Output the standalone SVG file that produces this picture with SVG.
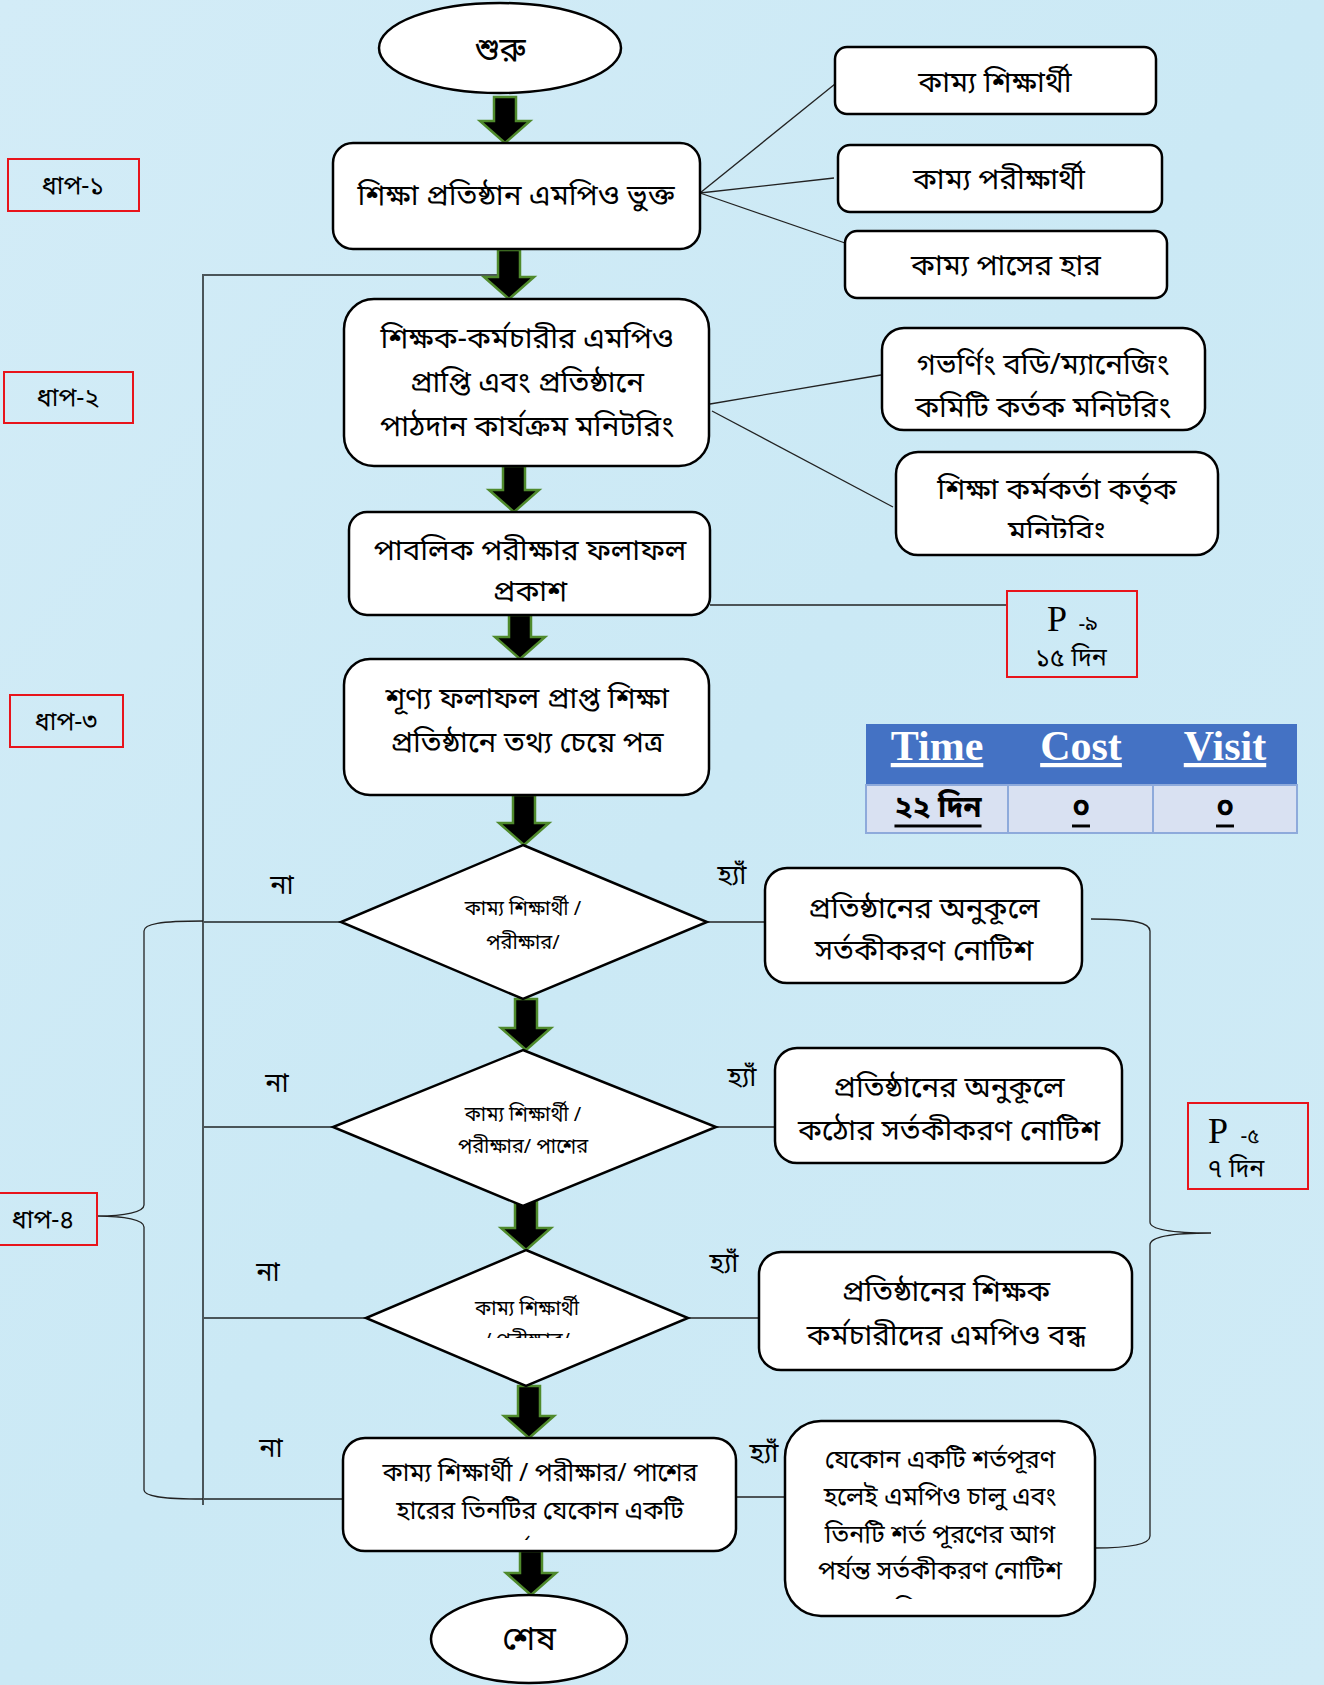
<svg xmlns="http://www.w3.org/2000/svg" width="1324" height="1685" viewBox="0 0 1324 1685">
<style>
.bn{font-family:"Noto Sans Bengali","Noto Serif Bengali","Lohit Bengali","FreeSerif","Noto Sans",sans-serif;fill:#000;text-anchor:middle;dominant-baseline:central;transform:translateY(4px)}
.t28{font-size:29.5px}
.t26{font-size:27px}
.t24{font-size:25px}
.t20{font-size:20px}
.node{fill:#fff;stroke:#000;stroke-width:2.5}
.tag{fill:none;stroke:#e8141b;stroke-width:2}
.con{fill:none;stroke:#222;stroke-width:1.3}
.vline{fill:none;stroke:#4a5559;stroke-width:2}
.blk{fill:#000;stroke:#4f8a2c;stroke-width:2.5;stroke-linejoin:miter}
.hdr{font-family:"Liberation Serif",serif;font-size:42px;font-weight:bold;fill:#fff;text-anchor:middle;text-decoration:underline}
.pp{font-family:"Liberation Serif",serif;font-size:36px;fill:#000;text-anchor:middle}
.pn{font-family:"Noto Sans Bengali","Noto Serif Bengali","Lohit Bengali","FreeSerif",sans-serif;fill:#000;text-anchor:middle}
</style>
<defs>
<linearGradient id="bg" x1="0" y1="0" x2="1" y2="1">
<stop offset="0" stop-color="#d3ecf7"/>
<stop offset="0.5" stop-color="#cbe9f5"/>
<stop offset="1" stop-color="#d0ebf6"/>
</linearGradient>
<clipPath id="c4"><rect x="346" y="661" width="361" height="113"/></clipPath>
<clipPath id="cd3"><rect x="360" y="1250" width="340" height="88"/></clipPath>
<clipPath id="cl"><rect x="345" y="1440" width="389" height="100"/></clipPath>
<clipPath id="cy4"><rect x="787" y="1423" width="306" height="176"/></clipPath>
<clipPath id="cs"><rect x="898" y="454" width="318" height="84"/></clipPath>
</defs>
<rect x="0" y="0" width="1324" height="1685" fill="url(#bg)"/>

<g id="connectors">
<line class="con" x1="700" y1="193" x2="835" y2="84"/>
<line class="con" x1="700" y1="193" x2="834" y2="178"/>
<line class="con" x1="700" y1="193" x2="845" y2="243"/>
<line class="con" x1="710" y1="404" x2="881" y2="375"/>
<line class="con" x1="712" y1="411" x2="893" y2="507"/>
<line class="con" x1="710" y1="605" x2="1007" y2="605"/>
<polyline class="vline" points="505,275 203,275 203,1505"/>
<line class="vline" x1="341" y1="922" x2="203" y2="922"/>
<line class="vline" x1="333" y1="1127" x2="203" y2="1127"/>
<line class="vline" x1="366" y1="1318" x2="203" y2="1318"/>
<line class="vline" x1="343" y1="1499" x2="203" y2="1499"/>
<line class="con" x1="707" y1="922" x2="765" y2="922"/>
<line class="con" x1="716" y1="1127" x2="775" y2="1127"/>
<line class="con" x1="688" y1="1318" x2="759" y2="1318"/>
<line class="con" x1="736" y1="1497" x2="785" y2="1497"/>
<path class="con" d="M203,921 C160,921 144,924 144,931 V1205 C144,1212 125,1216 97,1216 C125,1216 144,1220 144,1227 V1490 C144,1496 160,1499 203,1499"/>
<path class="con" d="M1091,919 C1135,919 1150,923 1150,931 V1222 C1150,1229 1170,1233 1211,1233 C1170,1233 1150,1237 1150,1245 V1536 C1150,1543 1135,1548 1094,1548"/>
<path class="blk" d="M494,97 H516 V121 H530 L505,143 L480,121 H494 Z"/>
<path class="blk" d="M498,250 H520 V277 H534 L509,299 L484,277 H498 Z"/>
<path class="blk" d="M503,466 H525 V490 H539 L514,512 L489,490 H503 Z"/>
<path class="blk" d="M509,615 H531 V637 H545 L520,659 L495,637 H509 Z"/>
<path class="blk" d="M513,795 H535 V823 H549 L524,845 L499,823 H513 Z"/>
<path class="blk" d="M515,999 H537 V1028 H551 L526,1050 L501,1028 H515 Z"/>
<path class="blk" d="M515,1200 H537 V1228 H551 L526,1250 L501,1228 H515 Z"/>
<path class="blk" d="M518,1386 H540 V1416 H554 L529,1438 L504,1416 H518 Z"/>
<path class="blk" d="M520,1551 H542 V1573 H556 L531,1595 L506,1573 H520 Z"/>
<text class="bn t26" x="282" y="883">না</text>
<text class="bn t26" x="277" y="1081">না</text>
<text class="bn t26" x="268" y="1270">না</text>
<text class="bn t26" x="271" y="1446">না</text>
<text class="bn t26" x="732" y="873">হ্যাঁ</text>
<text class="bn t26" x="742" y="1075">হ্যাঁ</text>
<text class="bn t26" x="724" y="1261">হ্যাঁ</text>
<text class="bn t26" x="764" y="1451">হ্যাঁ</text>
</g>

<g id="start">
<ellipse class="node" cx="500" cy="48" rx="121" ry="45"/>
<text class="bn" style="font-size:33px" x="500" y="48">শুরু</text>
</g>
<g id="mpo-listed">
<rect class="node" x="333" y="143" width="367" height="106" rx="20"/>
<text class="bn t28" x="516" y="193">শিক্ষা প্রতিষ্ঠান এমপিও ভুক্ত</text>
</g>
<g id="desired-students">
<rect class="node" x="835" y="47" width="321" height="67" rx="12"/>
<text class="bn t28" x="995" y="80">কাম্য শিক্ষার্থী</text>
</g>
<g id="desired-examinees">
<rect class="node" x="838" y="145" width="324" height="67" rx="12"/>
<text class="bn t28" x="999" y="177">কাম্য পরীক্ষার্থী</text>
</g>
<g id="desired-pass-rate">
<rect class="node" x="845" y="231" width="322" height="67" rx="12"/>
<text class="bn t28" x="1006" y="263">কাম্য পাসের হার</text>
</g>
<g id="monitoring">
<rect class="node" x="344" y="299" width="365" height="167" rx="30"/>
<text class="bn t28" x="527" y="336">শিক্ষক-কর্মচারীর এমপিও</text>
<text class="bn t28" x="527" y="380">প্রাপ্তি এবং প্রতিষ্ঠানে</text>
<text class="bn t28" x="527" y="424">পাঠদান কার্যক্রম মনিটরিং</text>
</g>
<g id="governing-body">
<rect class="node" x="882" y="328" width="323" height="102" rx="22"/>
<text class="bn t28" x="1043" y="362">গভর্ণিং বডি/ম্যানেজিং</text>
<text class="bn t28" x="1043" y="405">কমিটি কর্তক মনিটরিং</text>
</g>
<g id="edu-officer">
<rect class="node" x="896" y="452" width="322" height="103" rx="22"/>
<g clip-path="url(#cs)">
<text class="bn t28" x="1057" y="487">শিক্ষা কর্মকর্তা কর্তৃক</text>
<text class="bn t28" x="1057" y="529">মনিটরিং</text>
</g>
</g>
<g id="result">
<rect class="node" x="349" y="512" width="361" height="103" rx="18"/>
<text class="bn t28" x="530" y="548">পাবলিক পরীক্ষার ফলাফল</text>
<text class="bn t28" x="530" y="589">প্রকাশ</text>
</g>
<g id="p9">
<rect class="tag" x="1007" y="591" width="130" height="86"/>
<text class="pp" x="1057" y="631">P</text>
<text class="pn" style="font-size:21px" x="1088" y="631">-৯</text>
<text class="pn" style="font-size:25px" x="1071" y="666">১৫ দিন</text>
</g>
<g id="letter">
<rect class="node" x="344" y="659" width="365" height="136" rx="26"/>
<g clip-path="url(#c4)">
<text class="bn t28" x="527" y="696">শূণ্য ফলাফল প্রাপ্ত শিক্ষা</text>
<text class="bn t28" x="527" y="740">প্রতিষ্ঠানে তথ্য চেয়ে পত্র</text>
<text class="bn t28" x="527" y="784">প্রেরণ</text>
</g>
</g>
<g id="table">
<rect x="866" y="724" width="431" height="61" fill="#4472c4"/>
<rect x="866" y="785" width="431" height="48" fill="#d9e1f2" stroke="#8eaadb" stroke-width="2"/>
<line x1="1008" y1="785" x2="1008" y2="833" stroke="#8eaadb" stroke-width="2"/>
<line x1="1153" y1="785" x2="1153" y2="833" stroke="#8eaadb" stroke-width="2"/>
<text class="hdr" x="937" y="760">Time</text>
<text class="hdr" x="1081" y="760">Cost</text>
<text class="hdr" x="1225" y="760">Visit</text>
<text class="bn t28" x="938" y="805" style="font-weight:bold;text-decoration:underline">২২ দিন</text>
<text class="bn t28" x="1081" y="805" style="font-weight:bold;text-decoration:underline">০</text>
<text class="bn t28" x="1225" y="805" style="font-weight:bold;text-decoration:underline">০</text>
</g>
<g id="decision1">
<polygon class="node" points="523,845 707,922 523,999 341,922"/>
<text class="bn t20" x="523" y="906">কাম্য শিক্ষার্থী /</text>
<text class="bn t20" x="523" y="940">পরীক্ষার/</text>
</g>
<g id="notice1">
<rect class="node" x="765" y="868" width="317" height="115" rx="22"/>
<text class="bn t28" x="924" y="906">প্রতিষ্ঠানের অনুকূলে</text>
<text class="bn t28" x="924" y="948">সর্তকীকরণ নোটিশ</text>
</g>
<g id="decision2">
<polygon class="node" points="523,1050 716,1127 523,1206 333,1127"/>
<text class="bn t20" x="523" y="1112">কাম্য শিক্ষার্থী /</text>
<text class="bn t20" x="523" y="1144">পরীক্ষার/ পাশের</text>
</g>
<g id="notice2">
<rect class="node" x="775" y="1048" width="347" height="115" rx="22"/>
<text class="bn t28" x="949" y="1085">প্রতিষ্ঠানের অনুকূলে</text>
<text class="bn t28" x="949" y="1128">কঠোর সর্তকীকরণ নোটিশ</text>
</g>
<g id="decision3">
<polygon class="node" points="526,1250 688,1318 526,1386 366,1318"/>
<g clip-path="url(#cd3)">
<text class="bn t20" x="527" y="1306">কাম্য শিক্ষার্থী</text>
<text class="bn t20" x="527" y="1338">/ পরীক্ষার/</text>
</g>
</g>
<g id="mpo-stop">
<rect class="node" x="759" y="1252" width="373" height="118" rx="22"/>
<text class="bn t28" x="946" y="1289">প্রতিষ্ঠানের  শিক্ষক</text>
<text class="bn t28" x="946" y="1333">কর্মচারীদের এমপিও বন্ধ</text>
</g>
<g id="any-one">
<rect class="node" x="343" y="1438" width="393" height="113" rx="22"/>
<g clip-path="url(#cl)">
<text class="bn t24" x="540" y="1470">কাম্য শিক্ষার্থী / পরীক্ষার/ পাশের</text>
<text class="bn t24" x="540" y="1508">হারের তিনটির যেকোন একটি</text>
<text class="bn t24" x="540" y="1548">শর্তপূরণ</text>
</g>
</g>
<g id="mpo-resume">
<rect class="node" x="785" y="1421" width="310" height="195" rx="36"/>
<g clip-path="url(#cy4)">
<text class="bn t24" x="940" y="1457">যেকোন একটি শর্তপূরণ</text>
<text class="bn t24" x="940" y="1494">হলেই এমপিও চালু এবং</text>
<text class="bn t24" x="940" y="1532">তিনটি শর্ত পূরণের আগ</text>
<text class="bn t24" x="940" y="1568">পর্যন্ত  সর্তকীকরণ নোটিশ</text>
<text class="bn t24" x="940" y="1607">দিতে হবে</text>
</g>
</g>
<g id="end">
<ellipse class="node" cx="529" cy="1639" rx="98" ry="44"/>
<text class="bn" style="font-size:33px" x="529" y="1637">শেষ</text>
</g>
<g id="p5">
<rect class="tag" x="1188" y="1103" width="120" height="86"/>
<text class="pp" x="1218" y="1143">P</text>
<text class="pn" style="font-size:21px" x="1250" y="1143">-৫</text>
<text class="pn" style="font-size:25px" x="1236" y="1177">৭ দিন</text>
</g>
<g id="step1"><rect class="tag" x="8" y="159" width="131" height="52"/><text class="bn t24" x="73" y="183">ধাপ-১</text></g>
<g id="step2"><rect class="tag" x="4" y="372" width="129" height="51"/><text class="bn t24" x="68" y="395">ধাপ-২</text></g>
<g id="step3"><rect class="tag" x="10" y="695" width="113" height="52"/><text class="bn t24" x="66" y="719">ধাপ-৩</text></g>
<g id="step4"><rect class="tag" x="-2" y="1193" width="99" height="52"/><text class="bn t24" x="43" y="1217">ধাপ-৪</text></g>
</svg>
